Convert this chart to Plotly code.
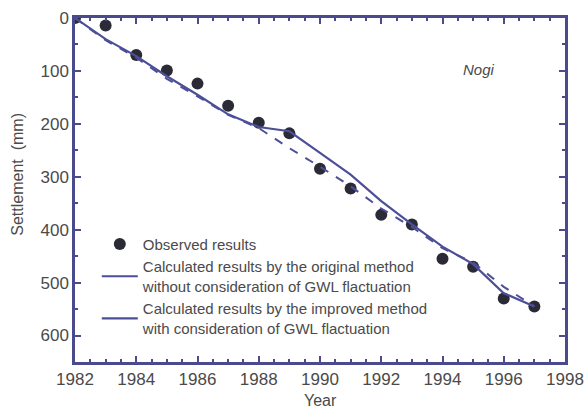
import plotly.graph_objects as go

obs_years = [1982, 1983, 1984, 1985, 1986, 1987, 1988, 1989, 1990, 1991, 1992, 1993, 1994, 1995, 1996, 1997]
obs_settle = [0, 14, 70, 99, 124, 166, 198, 218, 285, 322, 372, 390, 455, 470, 530, 545]

orig_years = [1982, 1983, 1984, 1985, 1986, 1987, 1988, 1989, 1990, 1991, 1992, 1993, 1994, 1995, 1996, 1997]
orig_settle = [0, 42, 75, 115, 148, 183, 208, 246, 281, 318, 360, 395, 435, 462, 508, 545]

impr_years = [1982, 1983, 1984, 1985, 1986, 1987, 1988, 1988.5, 1989, 1990, 1991, 1992, 1993, 1994, 1995, 1996, 1997]
impr_settle = [0, 40, 72, 110, 145, 182, 206, 210, 214, 255, 296, 346, 390, 432, 465, 520, 545]

legend_obs = "Observed results"
legend_orig = "Calculated results by the original method<br>without consideration of GWL flactuation"
legend_impr = "Calculated results by the improved method<br>with consideration of GWL flactuation"

line_col = "#4c4f98"
axis_col = "#4a4a8c"
text_col = "#4a4a4a"
font_fam = "Liberation Sans, Arial, sans-serif"

fig = go.Figure()
fig.add_trace(go.Scatter(
    x=obs_years, y=obs_settle, mode="markers", name=legend_obs,
    marker=dict(size=12, color="#2b2b38"),
))
# original method: dashed curve, legend entry drawn with a solid sample as in the figure
fig.add_trace(go.Scatter(
    x=orig_years, y=orig_settle, mode="lines", showlegend=False,
    line=dict(color=line_col, width=2, dash="dash"),
))
fig.add_trace(go.Scatter(
    x=[None], y=[None], mode="lines", name=legend_orig,
    line=dict(color=line_col, width=2),
))
fig.add_trace(go.Scatter(
    x=impr_years, y=impr_settle, mode="lines", name=legend_impr,
    line=dict(color=line_col, width=2.2),
))

fig.add_annotation(
    x=1995.2, y=97, text="<i>Nogi</i>", showarrow=False,
    font=dict(size=15, color=text_col, family=font_fam), xanchor="center",
)
fig.add_annotation(
    xref="paper", yref="paper", x=-0.118, y=0.545, text="Settlement  (mm)",
    textangle=-90, showarrow=False, xanchor="center", yanchor="middle",
    font=dict(size=16, color=text_col, family=font_fam),
)
fig.add_annotation(
    xref="paper", yref="paper", x=0.5, y=-0.113, text="Year",
    showarrow=False, xanchor="center", yanchor="middle",
    font=dict(size=16, color=text_col, family=font_fam),
)

axis_common = dict(
    showline=True, linecolor=axis_col, linewidth=2.5, mirror="allticks",
    ticks="inside", ticklen=6, tickcolor=axis_col, tickwidth=1.5,
    showgrid=False, zeroline=False, ticklabeloverflow="allow", automargin=False,
    tickfont=dict(size=17, color=text_col, family=font_fam),
)

fig.update_xaxes(
    range=[1982, 1998], tick0=1982, dtick=2,
    minor=dict(ticks="inside", ticklen=3, tickcolor=axis_col, dtick=0.5, tick0=1982),
    **axis_common,
)
fig.update_yaxes(
    range=[650, 0], tick0=0, dtick=100,
    minor=dict(ticks="inside", ticklen=3, tickcolor=axis_col, dtick=50, tick0=0),
    **axis_common,
)

fig.update_layout(
    width=585, height=410,
    margin=dict(l=75, r=20, t=18, b=48),
    paper_bgcolor="white", plot_bgcolor="white",
    showlegend=True,
    legend=dict(
        x=0.0445, y=0.39, xanchor="left", yanchor="top",
        bgcolor="rgba(0,0,0,0)", borderwidth=0,
        font=dict(size=15, color=text_col, family=font_fam),
        itemwidth=36,
    ),
)

fig.write_html("out.html")
